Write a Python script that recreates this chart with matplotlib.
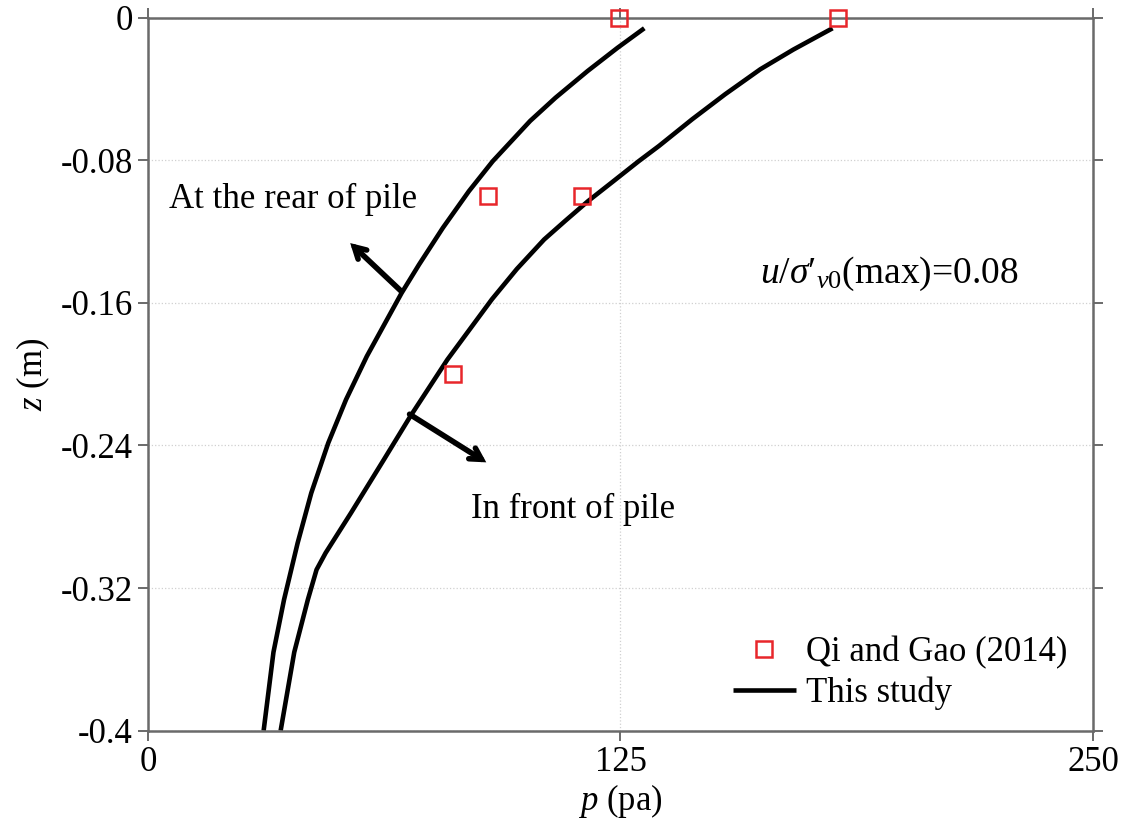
import numpy as np
import matplotlib
matplotlib.use('Agg')
import matplotlib.pyplot as plt

plt.rcParams['font.family'] = ['Liberation Serif', 'DejaVu Serif']
plt.rcParams['mathtext.fontset'] = 'custom'
plt.rcParams['mathtext.rm'] = 'Liberation Serif'
plt.rcParams['mathtext.it'] = 'Liberation Serif:italic'

# Qi and Gao (2014) measurements
exp_p = [124.5, 182.5, 90.0, 114.8, 80.6]
exp_z = [0.0, 0.0, -0.10, -0.10, -0.20]

# computed pressure behind the pile
rear_z = [-0.006, -0.017, -0.030, -0.045, -0.058, -0.0806, -0.0974, -0.118, -0.1386,
          -0.1545, -0.19, -0.2143, -0.2386, -0.2667, -0.2947, -0.3265, -0.356, -0.40]
rear_p = [131.3, 124.2, 116.3, 107.8, 101.1, 91.2, 84.9, 78.0, 71.7,
          67.1, 57.9, 52.4, 47.7, 43.2, 39.6, 36.0, 33.2, 30.6]

# computed pressure in front of the pile
front_z = [-0.006, -0.018, -0.029, -0.043, -0.057, -0.072, -0.0806, -0.092, -0.103, -0.114,
           -0.1245, -0.141, -0.158, -0.1919, -0.2237, -0.248, -0.2779, -0.3003, -0.3097,
           -0.3265, -0.356, -0.40]
front_p = [181.1, 170.7, 162.0, 152.7, 144.0, 135.2, 129.8, 123.0, 116.4, 110.4,
           104.8, 97.6, 91.0, 79.2, 69.4, 62.4, 53.7, 47.0, 44.6,
           42.3, 38.7, 35.1]

fig = plt.figure(figsize=(11.26, 8.36), dpi=100)
ax = fig.add_axes([0.1314, 0.126, 0.8393, 0.853])

ax.plot(rear_p, rear_z, color='black', lw=3.3, solid_capstyle='butt', solid_joinstyle='round')
ax.plot(front_p, front_z, color='black', lw=3.3, solid_capstyle='butt', solid_joinstyle='round',
        label='This study')
ax.plot(exp_p, exp_z, ls='none', marker='s', ms=11, mfc='none', mec='#e8262b', mew=1.8,
        label='Qi and Gao (2014)', clip_on=False, zorder=5)

ax.set_xlim(0, 250)
ax.set_ylim(-0.4, 0)
ax.set_xticks([0, 125, 250])
ax.set_yticks([0, -0.08, -0.16, -0.24, -0.32, -0.4])
ax.set_yticklabels(['0', '-0.08', '-0.16', '-0.24', '-0.32', '-0.4'])
ax.grid(True, color='#d0d0d0', ls=':', lw=0.9)

for s in ax.spines.values():
    s.set_color('#6a6a6a')
    s.set_linewidth(1.8)
ax.tick_params(direction='out', length=7, width=1.4, color='#6a6a6a',
               labelsize=25, top=True, right=True, pad=4)

ax.set_xlabel('$p$ (pa)', fontsize=25, labelpad=2)
ax.set_ylabel('$z$ (m)', fontsize=25, labelpad=6)

# labels with arrows pointing away from each curve
arrow_kw = dict(arrowstyle='->,head_length=0.8,head_width=0.45', lw=4, color='black',
                shrinkA=0, shrinkB=0, joinstyle='miter')
ax.text(5.5, -0.102, 'At the rear of pile', fontsize=25, va='center')
ax.annotate('', xy=(53.5, -0.1265), xytext=(67.0, -0.1535), arrowprops=arrow_kw)
ax.text(85.5, -0.276, 'In front of pile', fontsize=25, va='center')
ax.annotate('', xy=(89.5, -0.2495), xytext=(69.2, -0.2225), arrowprops=arrow_kw)
ax.text(162, -0.1435, r"$u/\sigma\prime_{\mathit{v0}}$(max)=0.08", fontsize=27, va='center')

leg = ax.legend(handles=ax.get_legend_handles_labels()[0][::-1], loc='lower right',
                bbox_to_anchor=(0.995, 0.0), frameon=False, fontsize=25,
                handlelength=1.8, handletextpad=0.3, labelspacing=0.2, borderaxespad=0.2)

fig.savefig('out.png', dpi=100)
